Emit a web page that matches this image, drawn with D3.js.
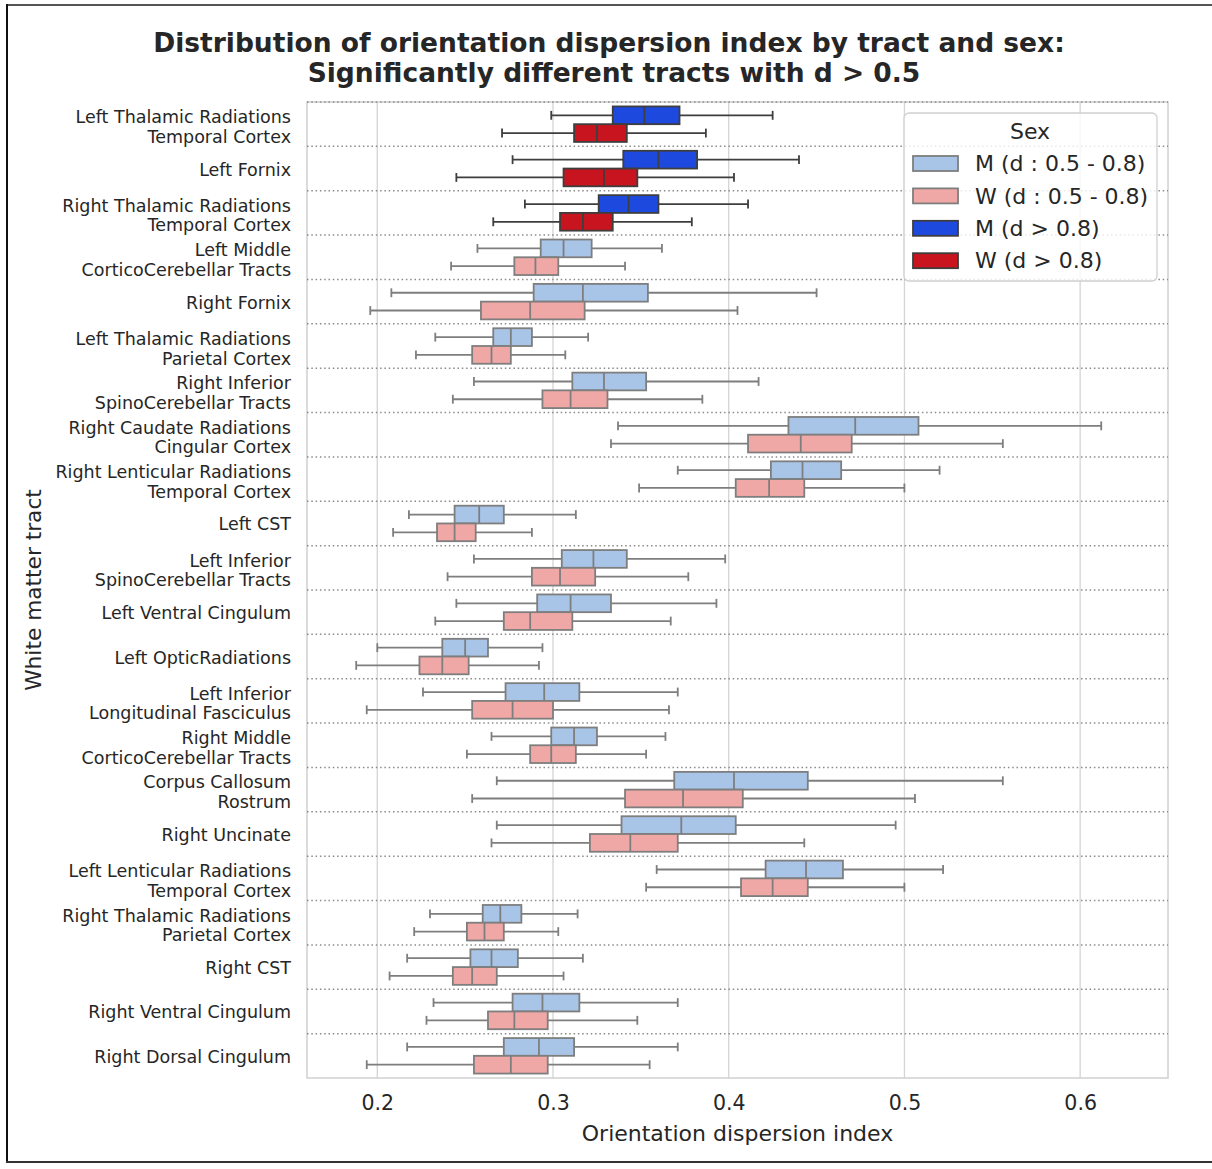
<!DOCTYPE html>
<html>
<head>
<meta charset="utf-8">
<script src="https://cdn.jsdelivr.net/npm/d3@7"></script>
<style>
  body { margin: 0; background: #fff; }
  text { font-family: "DejaVu Sans", sans-serif; fill: #262626; }
</style>
</head>
<body>
<svg id="chart" width="1212" height="1169"></svg>
<script>
const tracts = [
    "Left Thalamic Radiations\nTemporal Cortex",
    "Left Fornix",
    "Right Thalamic Radiations\nTemporal Cortex",
    "Left Middle\nCorticoCerebellar Tracts",
    "Right Fornix",
    "Left Thalamic Radiations\nParietal Cortex",
    "Right Inferior\nSpinoCerebellar Tracts",
    "Right Caudate Radiations\nCingular Cortex",
    "Right Lenticular Radiations\nTemporal Cortex",
    "Left CST",
    "Left Inferior\nSpinoCerebellar Tracts",
    "Left Ventral Cingulum",
    "Left OpticRadiations",
    "Left Inferior\nLongitudinal Fasciculus",
    "Right Middle\nCorticoCerebellar Tracts",
    "Corpus Callosum\nRostrum",
    "Right Uncinate",
    "Left Lenticular Radiations\nTemporal Cortex",
    "Right Thalamic Radiations\nParietal Cortex",
    "Right CST",
    "Right Ventral Cingulum",
    "Right Dorsal Cingulum"
];

// d > 0.8 for the first three tracts, 0.5 - 0.8 for the rest
const strongEffect = [true, true, true, false, false, false, false, false, false, false, false,
    false, false, false, false, false, false, false, false, false, false, false];

// [lower whisker, q1, median, q3, upper whisker]
const menStats = [
    [0.299, 0.334, 0.352, 0.372, 0.425],
    [0.277, 0.340, 0.360, 0.382, 0.440],
    [0.284, 0.326, 0.343, 0.360, 0.411],
    [0.257, 0.293, 0.306, 0.322, 0.362],
    [0.208, 0.289, 0.317, 0.354, 0.450],
    [0.233, 0.266, 0.276, 0.288, 0.320],
    [0.255, 0.311, 0.329, 0.353, 0.417],
    [0.337, 0.434, 0.472, 0.508, 0.612],
    [0.371, 0.424, 0.442, 0.464, 0.520],
    [0.218, 0.244, 0.258, 0.272, 0.313],
    [0.255, 0.305, 0.323, 0.342, 0.398],
    [0.245, 0.291, 0.310, 0.333, 0.393],
    [0.200, 0.237, 0.250, 0.263, 0.294],
    [0.226, 0.273, 0.295, 0.315, 0.371],
    [0.265, 0.299, 0.312, 0.325, 0.364],
    [0.268, 0.369, 0.403, 0.445, 0.556],
    [0.268, 0.339, 0.373, 0.404, 0.495],
    [0.359, 0.421, 0.444, 0.465, 0.522],
    [0.230, 0.260, 0.270, 0.282, 0.314],
    [0.217, 0.253, 0.265, 0.280, 0.317],
    [0.232, 0.277, 0.294, 0.315, 0.371],
    [0.217, 0.272, 0.292, 0.312, 0.371]
];

const womenStats = [
    [0.271, 0.312, 0.325, 0.342, 0.387],
    [0.245, 0.306, 0.329, 0.348, 0.403],
    [0.266, 0.304, 0.317, 0.334, 0.379],
    [0.242, 0.278, 0.290, 0.303, 0.341],
    [0.196, 0.259, 0.287, 0.318, 0.405],
    [0.222, 0.254, 0.265, 0.276, 0.307],
    [0.243, 0.294, 0.310, 0.331, 0.385],
    [0.333, 0.411, 0.441, 0.470, 0.556],
    [0.349, 0.404, 0.423, 0.443, 0.500],
    [0.209, 0.234, 0.244, 0.256, 0.288],
    [0.240, 0.288, 0.304, 0.324, 0.377],
    [0.233, 0.272, 0.287, 0.311, 0.367],
    [0.188, 0.224, 0.237, 0.252, 0.292],
    [0.194, 0.254, 0.277, 0.300, 0.366],
    [0.251, 0.287, 0.299, 0.313, 0.353],
    [0.254, 0.341, 0.374, 0.408, 0.506],
    [0.265, 0.321, 0.344, 0.371, 0.443],
    [0.353, 0.407, 0.425, 0.445, 0.500],
    [0.221, 0.251, 0.261, 0.272, 0.303],
    [0.207, 0.243, 0.254, 0.268, 0.306],
    [0.228, 0.263, 0.278, 0.297, 0.348],
    [0.194, 0.255, 0.276, 0.297, 0.355]
];

const xTicks = [0.2, 0.3, 0.4, 0.5, 0.6];
const legendLabels = ["M (d : 0.5 - 0.8)", "W (d : 0.5 - 0.8)", "M (d > 0.8)", "W (d > 0.8)"];

const fill = {
    M: { weak: "#a8c5e8", strong: "#1e49de" },
    W: { weak: "#f0a8a6", strong: "#c8141f" }
};
const edge = { weak: "#7e7e7e", strong: "#3e3e3e" };

const svg = d3.select("#chart");
const margin = { top: 102, right: 44, bottom: 91, left: 307 };
const width = +svg.attr("width");
const height = +svg.attr("height");

// notebook cell frame
svg.append("line").attr("x1", 6).attr("x2", width).attr("y1", 5).attr("y2", 5)
    .attr("stroke", "#555").attr("stroke-width", 2);
svg.append("line").attr("x1", 7).attr("x2", 7).attr("y1", 4).attr("y2", 1163)
    .attr("stroke", "#111").attr("stroke-width", 2);
svg.append("line").attr("x1", 6).attr("x2", width).attr("y1", 1162).attr("y2", 1162)
    .attr("stroke", "#333").attr("stroke-width", 2);

const x = d3.scaleLinear().domain([0.16, 0.65]).range([margin.left, width - margin.right]);
const y = d3.scaleBand().domain(tracts).range([margin.top, height - margin.bottom]);
const half = y.bandwidth() * 0.4;

// vertical grid
svg.append("g").selectAll("line").data(xTicks).enter().append("line")
    .attr("x1", d => x(d)).attr("x2", d => x(d))
    .attr("y1", y.range()[0]).attr("y2", y.range()[1])
    .attr("stroke", "#d4d4d4").attr("stroke-width", 1.3);

// plot frame
svg.append("rect")
    .attr("x", x.range()[0]).attr("y", y.range()[0])
    .attr("width", x.range()[1] - x.range()[0])
    .attr("height", y.range()[1] - y.range()[0])
    .attr("fill", "none").attr("stroke", "#d0d0d0").attr("stroke-width", 1.5);

// dotted separators between tracts
svg.append("g").selectAll("line").data(tracts).enter().append("line")
    .attr("x1", x.range()[0]).attr("x2", x.range()[1])
    .attr("y1", d => y(d)).attr("y2", d => y(d))
    .attr("stroke", "#8a8a8a").attr("stroke-width", 1.5)
    .attr("stroke-dasharray", "1.5,2.8");

// boxes
const boxes = [];
tracts.forEach((t, i) => {
    const level = strongEffect[i] ? "strong" : "weak";
    const c = y(t) + y.bandwidth() / 2;
    boxes.push({ s: menStats[i], top: c - half, level, color: fill.M[level] });
    boxes.push({ s: womenStats[i], top: c, level, color: fill.W[level] });
});

const g = svg.append("g").selectAll("g").data(boxes).enter().append("g");

g.append("line").attr("class", "whisker")
    .attr("x1", d => x(d.s[0])).attr("x2", d => x(d.s[1]))
    .attr("y1", d => d.top + half / 2).attr("y2", d => d.top + half / 2);
g.append("line").attr("class", "whisker")
    .attr("x1", d => x(d.s[3])).attr("x2", d => x(d.s[4]))
    .attr("y1", d => d.top + half / 2).attr("y2", d => d.top + half / 2);
g.append("line").attr("class", "whisker")
    .attr("x1", d => x(d.s[0])).attr("x2", d => x(d.s[0]))
    .attr("y1", d => d.top + half / 4).attr("y2", d => d.top + half * 3 / 4);
g.append("line").attr("class", "whisker")
    .attr("x1", d => x(d.s[4])).attr("x2", d => x(d.s[4]))
    .attr("y1", d => d.top + half / 4).attr("y2", d => d.top + half * 3 / 4);
g.append("rect")
    .attr("x", d => x(d.s[1])).attr("y", d => d.top)
    .attr("width", d => x(d.s[3]) - x(d.s[1])).attr("height", half)
    .attr("fill", d => d.color);
g.append("line")
    .attr("x1", d => x(d.s[2])).attr("x2", d => x(d.s[2]))
    .attr("y1", d => d.top).attr("y2", d => d.top + half);
g.selectAll("line, rect")
    .attr("stroke", function() { return edge[d3.select(this.parentNode).datum().level]; })
    .attr("stroke-width", 1.8);

// x axis
const xAxis = svg.append("g")
    .attr("transform", `translate(0,${y.range()[1]})`)
    .call(d3.axisBottom(x).tickValues(xTicks).tickFormat(d3.format(".1f")).tickSize(0).tickPadding(17));
xAxis.select(".domain").remove();
xAxis.selectAll("text").attr("font-size", 20.5).attr("font-family", "DejaVu Sans").attr("fill", "#262626");

// y tick labels
const labelX = x.range()[0] - 16;
const yLabels = svg.append("g").selectAll("text").data(tracts).enter().append("text")
    .attr("x", labelX)
    .attr("y", d => y(d) + y.bandwidth() / 2)
    .attr("text-anchor", "end")
    .attr("font-size", 17.5);
yLabels.each(function(d) {
    const lines = d.split("\n");
    const el = d3.select(this);
    lines.forEach((ln, k) => {
        el.append("tspan")
            .attr("x", labelX)
            .attr("dy", k === 0 ? (lines.length === 1 ? "0.4em" : "-0.07em") : "1.13em")
            .text(ln);
    });
});

// axis titles
svg.append("text")
    .attr("x", (x.range()[0] + x.range()[1]) / 2).attr("y", 1141)
    .attr("text-anchor", "middle").attr("font-size", 22)
    .text("Orientation dispersion index");
svg.append("text")
    .attr("transform", "translate(41,590) rotate(-90)")
    .attr("text-anchor", "middle").attr("font-size", 21.7)
    .text("White matter tract");

// title
svg.append("text")
    .attr("x", 609).attr("y", 52)
    .attr("text-anchor", "middle").attr("font-size", 26.5).attr("font-weight", "bold")
    .text("Distribution of orientation dispersion index by tract and sex:");
svg.append("text")
    .attr("x", 614).attr("y", 82)
    .attr("text-anchor", "middle").attr("font-size", 26.5).attr("font-weight", "bold")
    .text("Significantly different tracts with d > 0.5");

// legend
const legend = svg.append("g").attr("transform", "translate(904,113)");
legend.append("rect")
    .attr("width", 253).attr("height", 168).attr("rx", 5)
    .attr("fill", "#fff").attr("fill-opacity", 0.8)
    .attr("stroke", "#d0d0d0").attr("stroke-width", 1.3);
legend.append("text")
    .attr("x", 126).attr("y", 26)
    .attr("text-anchor", "middle").attr("font-size", 22)
    .text("Sex");
const legendColors = [
    [fill.M.weak, edge.weak], [fill.W.weak, edge.weak],
    [fill.M.strong, edge.strong], [fill.W.strong, edge.strong]
];
const item = legend.selectAll(".item").data(legendLabels).enter().append("g")
    .attr("class", "item")
    .attr("transform", (d, i) => `translate(9,${43 + i * 32.4})`);
item.append("rect")
    .attr("width", 45).attr("height", 15)
    .attr("fill", (d, i) => legendColors[i][0])
    .attr("stroke", (d, i) => legendColors[i][1]).attr("stroke-width", 1.8);
item.append("text")
    .attr("x", 62).attr("y", 7.5).attr("dy", "0.35em")
    .attr("font-size", 22)
    .text(d => d);
</script>
</body>
</html>
